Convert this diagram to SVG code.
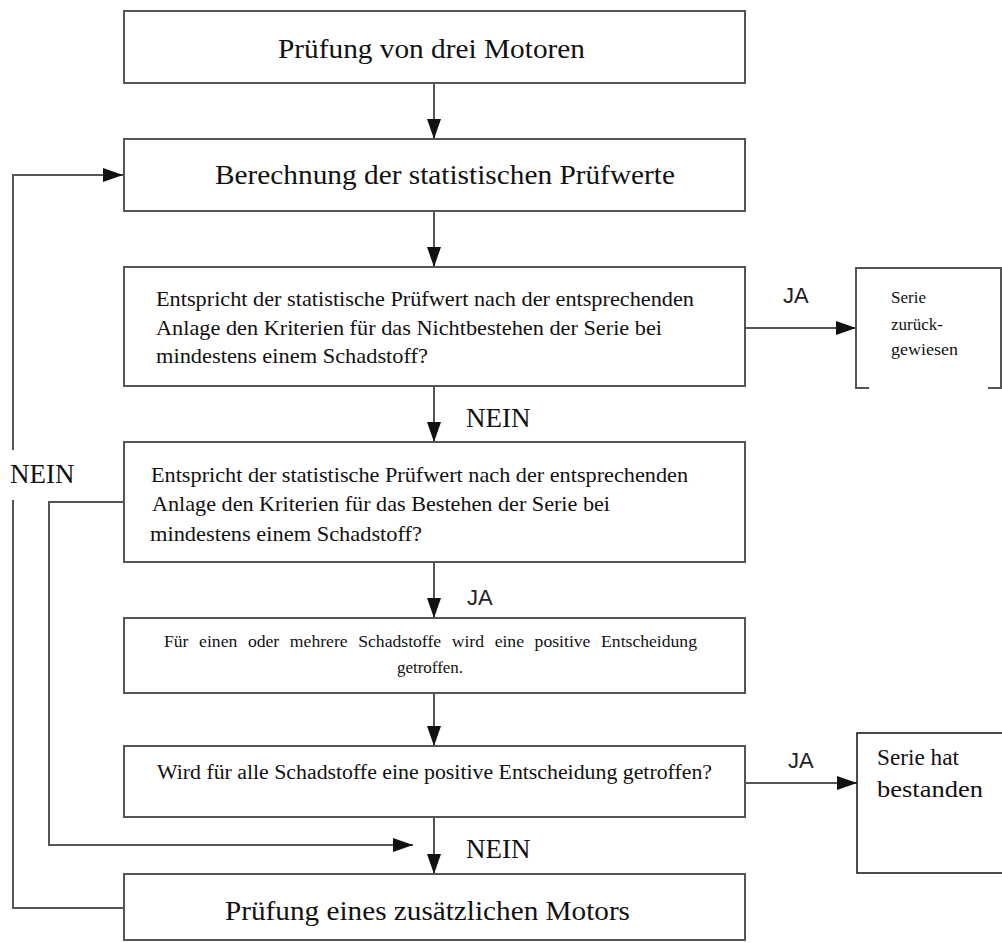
<svg xmlns="http://www.w3.org/2000/svg" width="1002" height="943" viewBox="0 0 1002 943">
<style>
.box{fill:#fff;stroke:#555;stroke-width:2}
.blk{fill:#fff;stroke:#111;stroke-width:1.5}
.ln{fill:none;stroke:#555;stroke-width:2}
.t{font-family:"Liberation Serif","Times New Roman",serif;fill:#111}
.s{font-family:"Liberation Sans",Arial,sans-serif;fill:#222}
</style>
<defs>
<marker id="ah" markerUnits="userSpaceOnUse" markerWidth="20" markerHeight="14" refX="20" refY="7" orient="auto">
<path d="M0,0 L20,7 L0,14 z" fill="#111"/>
</marker>
</defs>
<rect width="1002" height="943" fill="#fff"/>
<g id="connectors">
<line class="ln" x1="434" y1="83" x2="434" y2="139" marker-end="url(#ah)"/>
<line class="ln" x1="434" y1="211" x2="434" y2="267" marker-end="url(#ah)"/>
<line class="ln" x1="434" y1="386" x2="434" y2="442" marker-end="url(#ah)"/>
<line class="ln" x1="434" y1="562" x2="434" y2="618" marker-end="url(#ah)"/>
<line class="ln" x1="434" y1="693" x2="434" y2="746" marker-end="url(#ah)"/>
<line class="ln" x1="434" y1="817" x2="434" y2="874" marker-end="url(#ah)"/>
<line class="ln" x1="745" y1="328" x2="856" y2="328" marker-end="url(#ah)"/>
<line class="ln" x1="745" y1="783" x2="857" y2="783" marker-end="url(#ah)"/>
<path class="ln" d="M124,502 H49 V845 H413" marker-end="url(#ah)"/>
<path class="ln" d="M124,908 H13 V500"/>
<path class="ln" d="M13,450 V175 H123" marker-end="url(#ah)"/>
<text class="s" x="783" y="303" font-size="22">JA</text>
<text class="t" x="466" y="427" font-size="27">NEIN</text>
<text class="t" x="10" y="483" font-size="27">NEIN</text>
<text class="s" x="467" y="605" font-size="22">JA</text>
<text class="s" x="788" y="768" font-size="22">JA</text>
<text class="t" x="466" y="858" font-size="27">NEIN</text>
</g>
<g id="n1">
<rect class="box" x="124" y="11" width="621" height="72"/>
<text class="t" x="278" y="58" font-size="28" textLength="307" lengthAdjust="spacingAndGlyphs">Prüfung von drei Motoren</text>
</g>
<g id="n2">
<rect class="box" x="124" y="139" width="621" height="72"/>
<text class="t" x="215" y="184" font-size="27" textLength="460" lengthAdjust="spacingAndGlyphs">Berechnung der statistischen Prüfwerte</text>
</g>
<g id="n3">
<rect class="box" x="124" y="267" width="621" height="119"/>
<text class="t" x="156" y="306" font-size="21" textLength="538" lengthAdjust="spacingAndGlyphs">Entspricht der statistische Prüfwert nach der entsprechenden</text>
<text class="t" x="156" y="335" font-size="21" textLength="506" lengthAdjust="spacingAndGlyphs">Anlage den Kriterien für das Nichtbestehen der Serie bei</text>
<text class="t" x="156" y="363" font-size="21" textLength="272" lengthAdjust="spacingAndGlyphs">mindestens einem Schadstoff?</text>
</g>
<g id="n3b">
<path class="box" d="M869,388 H856 V268 H1001 V388 H988"/>
<text class="t" x="891" y="303" font-size="17">Serie</text>
<text class="t" x="891" y="330" font-size="17">zurück-</text>
<text class="t" x="891" y="355" font-size="17" textLength="67" lengthAdjust="spacingAndGlyphs">gewiesen</text>
</g>
<g id="n4">
<rect class="box" x="124" y="442" width="621" height="120"/>
<text class="t" x="151" y="482" font-size="21" textLength="537" lengthAdjust="spacingAndGlyphs">Entspricht der statistische Prüfwert nach der entsprechenden</text>
<text class="t" x="152" y="511" font-size="21" textLength="458" lengthAdjust="spacingAndGlyphs">Anlage den Kriterien für das Bestehen der Serie bei</text>
<text class="t" x="150" y="541" font-size="21" textLength="272" lengthAdjust="spacingAndGlyphs">mindestens einem Schadstoff?</text>
</g>
<g id="n5">
<rect class="box" x="124" y="618" width="621" height="75"/>
<text class="t" x="164" y="647" font-size="17" textLength="533" lengthAdjust="spacingAndGlyphs" word-spacing="6">Für einen oder mehrere Schadstoffe wird eine positive Entscheidung</text>
<text class="t" x="430" y="673" font-size="17" text-anchor="middle">getroffen.</text>
</g>
<g id="n6">
<rect class="box" x="124" y="746" width="621" height="71"/>
<text class="t" x="157" y="779" font-size="20" textLength="555" lengthAdjust="spacingAndGlyphs">Wird für alle Schadstoffe eine positive Entscheidung getroffen?</text>
</g>
<g id="n6b">
<rect class="blk" x="857" y="733" width="150" height="140"/>
<text class="t" x="877" y="765" font-size="23" textLength="82" lengthAdjust="spacingAndGlyphs">Serie hat</text>
<text class="t" x="877" y="797" font-size="23" textLength="106" lengthAdjust="spacingAndGlyphs">bestanden</text>
</g>
<g id="n7">
<rect class="box" x="124" y="874" width="621" height="66"/>
<text class="t" x="225" y="920" font-size="28" textLength="405" lengthAdjust="spacingAndGlyphs">Prüfung eines zusätzlichen Motors</text>
</g>
</svg>
